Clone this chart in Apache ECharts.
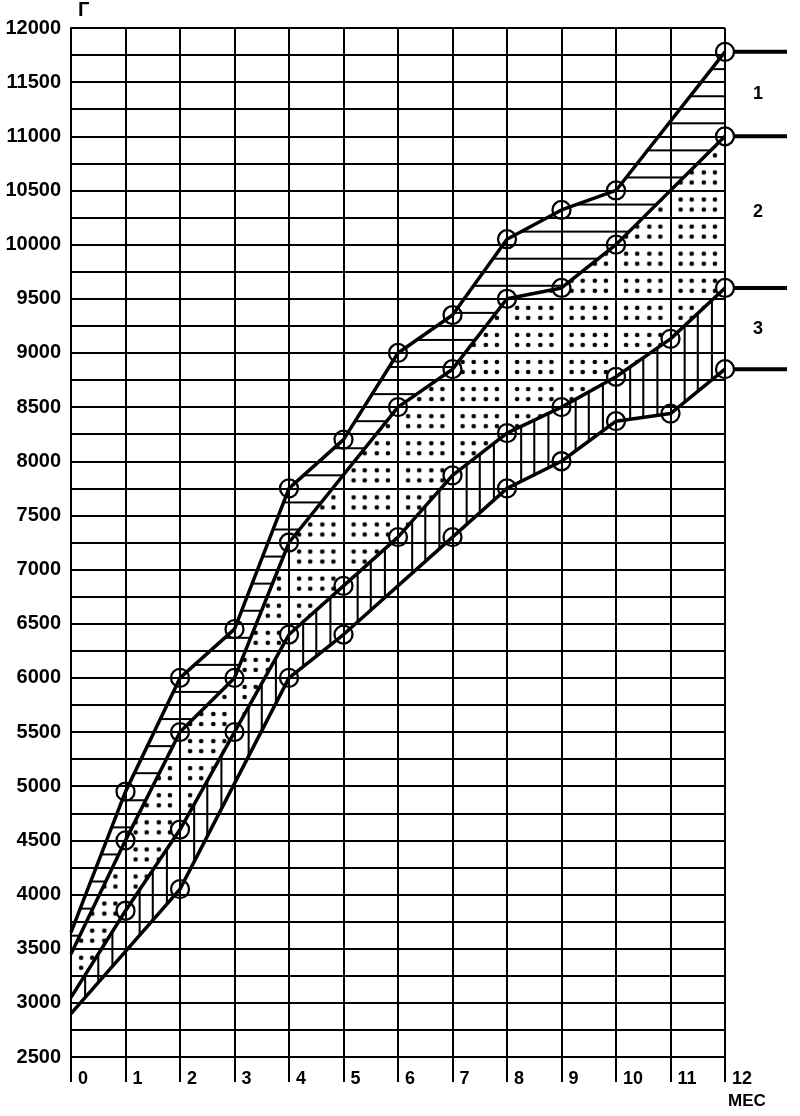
<!DOCTYPE html>
<html>
<head>
<meta charset="utf-8">
<script src="https://cdn.jsdelivr.net/npm/echarts@6/dist/echarts.min.js"></script>
<style>
  html, body { margin: 0; padding: 0; background: #fff; }
  #chart { width: 800px; height: 1116px; }
</style>
</head>
<body>
<div id="chart"></div>
<script>
// weight (g) by month; lines go from top (1) to bottom (4)
const line1Months = [0, 1, 2, 3, 4, 5, 6, 7, 8, 9, 10, 12];
const line1Weights = [3650, 4950, 6000, 6450, 7750, 8200, 9000, 9350, 10050, 10320, 10500, 11780];

const line2Months = [0, 1, 2, 3, 4, 6, 7, 8, 9, 10, 12];
const line2Weights = [3450, 4500, 5500, 6000, 7250, 8500, 8850, 9500, 9600, 10000, 11000];

const line3Months = [0, 1, 2, 3, 4, 5, 6, 7, 8, 9, 10, 11, 12];
const line3Weights = [3050, 3850, 4600, 5500, 6400, 6850, 7300, 7870, 8260, 8500, 8780, 9130, 9600];

const line4Months = [0, 2, 4, 5, 7, 8, 9, 10, 11, 12];
const line4Weights = [2900, 4050, 6000, 6400, 7300, 7750, 8000, 8370, 8440, 8850];

const bandLabels = ['1', '2', '3'];

const lines = [
  { months: line1Months, weights: line1Weights },
  { months: line2Months, weights: line2Weights },
  { months: line3Months, weights: line3Weights },
  { months: line4Months, weights: line4Weights },
];

const Y_MIN = 2500;
const Y_MAX = 12000;
const Y_STEP = 250;
const FONT = '"Liberation Sans", Arial, sans-serif';

// pattern tiles are one grid cell (1 month x 250 g), rescaled to the real cell size
const TILE_W = 54;
const TILE_H = 27;

function makeTile(draw) {
  const c = document.createElement('canvas');
  c.width = TILE_W;
  c.height = TILE_H;
  const ctx = c.getContext('2d');
  ctx.fillStyle = '#000';
  ctx.strokeStyle = '#000';
  draw(ctx);
  return c;
}

const hatchH = makeTile((ctx) => {
  ctx.fillRect(0, 13, TILE_W, 2);
});

const dots = makeTile((ctx) => {
  [10, 21, 33, 44].forEach((x) => {
    [9, 19].forEach((y) => {
      ctx.beginPath();
      ctx.arc(x, y, 2.3, 0, Math.PI * 2);
      ctx.fill();
    });
  });
});

const hatchV = makeTile((ctx) => {
  [13, 26, 40].forEach((x) => {
    ctx.fillRect(x, 0, 2, TILE_H);
  });
});

function bandSeries(upper, lower, tile) {
  return {
    type: 'custom',
    data: [[0, Y_MIN]],
    silent: true,
    z: 1,
    renderItem(params, api) {
      const top = upper.months.map((m, i) => api.coord([m, upper.weights[i]]));
      const bottom = lower.months.map((m, i) => api.coord([m, lower.weights[i]])).reverse();
      const size = api.size([1, Y_STEP]);
      const origin = api.coord([0, Y_MAX]);
      return {
        type: 'polygon',
        shape: { points: top.concat(bottom) },
        style: {
          fill: {
            image: tile,
            repeat: 'repeat',
            x: origin[0],
            y: origin[1],
            scaleX: size[0] / TILE_W,
            scaleY: size[1] / TILE_H,
          },
          stroke: null,
        },
      };
    },
  };
}

function lineSeries(line) {
  return {
    type: 'line',
    data: line.months.map((m, i) => ({
      value: [m, line.weights[i]],
      symbol: m === 0 ? 'none' : 'circle',
    })),
    symbolSize: 18,
    showAllSymbol: true,
    lineStyle: { color: '#000', width: 3.5 },
    itemStyle: { color: 'rgba(0,0,0,0)', borderColor: '#000', borderWidth: 2.3 },
    silent: true,
    z: 3,
  };
}

// end stubs to the right of month 12 and the band numbers between them
const endSeries = {
  type: 'custom',
  data: [[12, Y_MIN]],
  silent: true,
  z: 4,
  renderItem(params, api) {
    const ends = lines.map((l) => api.coord([l.months[l.months.length - 1], l.weights[l.weights.length - 1]]));
    const children = ends.map((p) => ({
      type: 'line',
      shape: { x1: p[0] + 9, y1: p[1], x2: p[0] + 62, y2: p[1] },
      style: { stroke: '#000', lineWidth: 4 },
    }));
    bandLabels.forEach((txt, i) => {
      children.push({
        type: 'text',
        x: ends[i][0] + 33,
        y: (ends[i][1] + ends[i + 1][1]) / 2,
        style: {
          text: txt,
          fill: '#000',
          font: 'bold 18px ' + FONT,
          align: 'center',
          verticalAlign: 'middle',
        },
      });
    });
    return { type: 'group', children };
  },
};

const chart = echarts.init(document.getElementById('chart'));

chart.setOption({
  animation: false,
  backgroundColor: '#fff',
  grid: { left: 71, right: 75, top: 28, bottom: 59 },
  xAxis: {
    type: 'value',
    min: 0,
    max: 12,
    interval: 1,
    axisLine: { show: true, lineStyle: { color: '#000', width: 2 } },
    axisTick: { show: true, length: 25, lineStyle: { color: '#000', width: 2 } },
    axisLabel: {
      color: '#000',
      fontSize: 18,
      fontWeight: 'bold',
      fontFamily: FONT,
      align: 'left',
      padding: [0, 0, 0, 7],
      margin: 13,
    },
    splitLine: { show: true, lineStyle: { color: '#000', width: 2 } },
  },
  yAxis: {
    type: 'value',
    min: Y_MIN,
    max: Y_MAX,
    interval: Y_STEP,
    name: 'Г',
    nameLocation: 'end',
    nameGap: 8,
    nameTextStyle: {
      color: '#000',
      fontSize: 20,
      fontWeight: 'bold',
      fontFamily: FONT,
      align: 'left',
      padding: [0, 0, 0, 7],
    },
    axisLine: { show: true, lineStyle: { color: '#000', width: 2 } },
    axisTick: { show: false },
    axisLabel: {
      color: '#000',
      fontSize: 20,
      fontWeight: 'bold',
      fontFamily: FONT,
      margin: 10,
      formatter: (v) => (v % 500 === 0 ? String(v) : ''),
    },
    splitLine: { show: true, lineStyle: { color: '#000', width: 2 } },
  },
  graphic: [
    {
      type: 'text',
      left: 728,
      top: 1093,
      style: {
        text: 'МЕС',
        fill: '#000',
        font: 'bold 17px ' + FONT,
      },
    },
  ],
  series: [
    bandSeries(lines[0], lines[1], hatchH),
    bandSeries(lines[1], lines[2], dots),
    bandSeries(lines[2], lines[3], hatchV),
    ...lines.map(lineSeries),
    endSeries,
  ],
});
</script>
</body>
</html>
